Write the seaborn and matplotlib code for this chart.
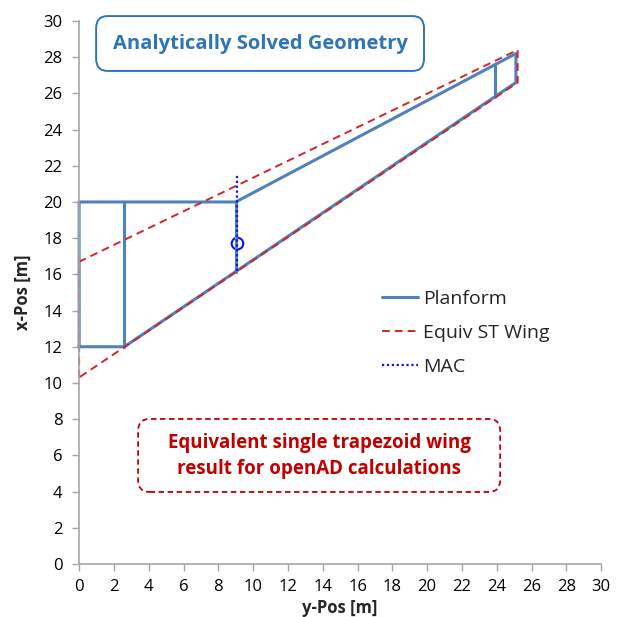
import matplotlib
matplotlib.use("Agg")
import matplotlib.pyplot as plt
from matplotlib.lines import Line2D
from matplotlib.patches import FancyBboxPatch
import pandas as pd
import seaborn as sns

# Planform outline and rib segments (y-Pos, x-Pos), one id per segment
plan_seg = [0, 0, 0, 0, 0, 0, 0, 1, 1, 2, 2, 3, 3]
plan_y = [0.0, 0.0, 9.0, 25.1, 25.1, 2.6, 0.0, 2.6, 2.6, 9.0, 9.0, 23.9, 23.9]
plan_x = [12.0, 20.0, 20.0, 28.2, 26.6, 12.0, 12.0, 20.0, 12.0, 20.0, 16.15, 27.6, 25.8]

# Equivalent single trapezoid wing
st_y = [0.0, 0.0, 25.2, 25.2, 0.0]
st_x = [10.3, 16.7, 28.4, 26.6, 10.3]

# Mean aerodynamic chord
mac_y = [9.1, 9.1]
mac_x = [16.2, 21.5]
mac_pt_y = [9.1]
mac_pt_x = [17.7]

legend_labels = ["Planform", "Equiv ST Wing", "MAC"]

PLAN_C = "#4F81BD"
ST_C = "#D0262A"
MAC_C = "#1010F0"
ST_DASH = (0, (4, 2.6))
MAC_DOT = (0, (1, 1.2))

sns.set_theme(style="white")
plt.rcParams["font.family"] = ["Open Sans", "DejaVu Sans"]

fig = plt.figure(figsize=(6.23, 6.17), dpi=100)
ax = fig.add_axes([0.127, 0.086, 0.838, 0.880])

plan = pd.DataFrame({"y": plan_y, "x": plan_x, "seg": plan_seg})
sns.lineplot(data=plan, x="y", y="x", units="seg", estimator=None, sort=False,
             color=PLAN_C, lw=2.2, ax=ax, legend=False, clip_on=False)

st = pd.DataFrame({"y": st_y, "x": st_x})
sns.lineplot(data=st, x="y", y="x", estimator=None, sort=False,
             color=ST_C, lw=1.4, ax=ax, legend=False, linestyle=ST_DASH,
             clip_on=False)

mac = pd.DataFrame({"y": mac_y, "x": mac_x})
sns.lineplot(data=mac, x="y", y="x", estimator=None, sort=False,
             color=MAC_C, lw=1.6, ax=ax, legend=False, linestyle=MAC_DOT)
sns.scatterplot(x=mac_pt_y, y=mac_pt_x, ax=ax, s=70, marker="o",
                facecolors="none", edgecolor=MAC_C, linewidth=1.5, legend=False)

ax.set_xlim(0, 30)
ax.set_ylim(0, 30)
ax.set_xticks(range(0, 31, 2))
ax.set_yticks(range(0, 31, 2))
ax.tick_params(axis="both", direction="out", length=5, width=1, color="#A6A6A6",
               labelsize=12, labelcolor="black", left=True, bottom=True)
ax.tick_params(axis="x", pad=6)
ax.tick_params(axis="y", pad=7)
for side in ["top", "right"]:
    ax.spines[side].set_visible(False)
for side in ["left", "bottom"]:
    ax.spines[side].set_color("#A6A6A6")
    ax.spines[side].set_linewidth(1.2)

ax.set_xlabel("y-Pos [m]", fontsize=12, fontweight="bold", labelpad=3)
ax.set_ylabel("x-Pos [m]", fontsize=12, fontweight="bold", labelpad=8)

handles = [
    Line2D([], [], color=PLAN_C, lw=2.2),
    Line2D([], [], color=ST_C, lw=1.4, linestyle=ST_DASH),
    Line2D([], [], color=MAC_C, lw=1.6, linestyle=MAC_DOT),
]
ax.legend(handles, legend_labels, loc="upper left", bbox_to_anchor=(0.580, 0.505),
          frameon=False, fontsize=14, handlelength=1.85, handletextpad=0.25,
          labelspacing=0.82, borderpad=0, borderaxespad=0)

# Annotation boxes
ax.add_patch(FancyBboxPatch((0.0326, 0.908), 0.628, 0.101,
                            boxstyle="round,pad=0,rounding_size=0.022",
                            transform=ax.transAxes, fc="white", ec="#2E75B6",
                            lw=1.4, clip_on=False, zorder=5))
ax.text(0.347, 0.9585, "Analytically Solved Geometry", transform=ax.transAxes,
        ha="center", va="center", fontsize=14.5, fontweight="bold",
        color="#2E75B6", zorder=6)

ax.add_patch(FancyBboxPatch((0.113, 0.1326), 0.6935, 0.1344,
                            boxstyle="round,pad=0,rounding_size=0.022",
                            transform=ax.transAxes, fc="white", ec="#C00000",
                            lw=1.3, ls=(0, (3, 2)), clip_on=False, zorder=5))
ax.text(0.46, 0.198, "Equivalent single trapezoid wing\nresult for openAD calculations",
        transform=ax.transAxes, ha="center", va="center", fontsize=13.5,
        fontweight="bold", color="#C00000", linespacing=1.4, zorder=6)

fig.savefig("out.png", dpi=100)
